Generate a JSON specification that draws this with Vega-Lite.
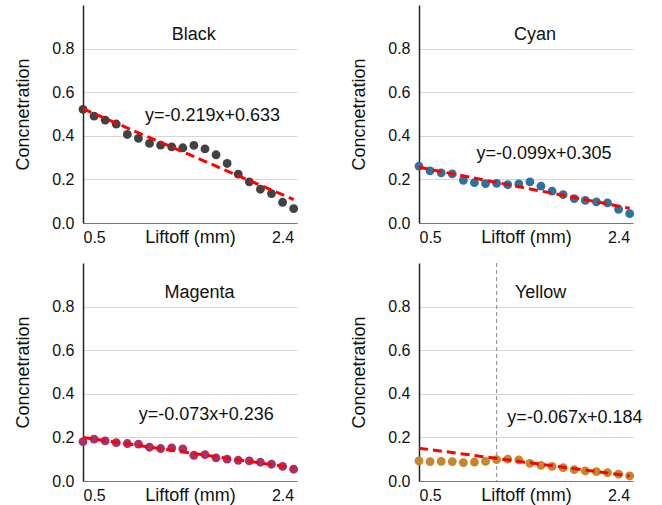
{
  "$schema": "https://vega.github.io/schema/vega-lite/v6.json",
  "padding": {"left": 14, "top": 5, "right": 5, "bottom": 5},
  "data": {"values": [
    {"panel":"Black","kind":"pt","x":0.5,"y":0.521},
    {"panel":"Black","kind":"pt","x":0.6,"y":0.490},
    {"panel":"Black","kind":"pt","x":0.7,"y":0.472},
    {"panel":"Black","kind":"pt","x":0.8,"y":0.454},
    {"panel":"Black","kind":"pt","x":0.9,"y":0.406},
    {"panel":"Black","kind":"pt","x":1.0,"y":0.388},
    {"panel":"Black","kind":"pt","x":1.1,"y":0.365},
    {"panel":"Black","kind":"pt","x":1.2,"y":0.357},
    {"panel":"Black","kind":"pt","x":1.3,"y":0.349},
    {"panel":"Black","kind":"pt","x":1.4,"y":0.345},
    {"panel":"Black","kind":"pt","x":1.5,"y":0.356},
    {"panel":"Black","kind":"pt","x":1.6,"y":0.340},
    {"panel":"Black","kind":"pt","x":1.7,"y":0.313},
    {"panel":"Black","kind":"pt","x":1.8,"y":0.273},
    {"panel":"Black","kind":"pt","x":1.9,"y":0.224},
    {"panel":"Black","kind":"pt","x":2.0,"y":0.189},
    {"panel":"Black","kind":"pt","x":2.1,"y":0.155},
    {"panel":"Black","kind":"pt","x":2.2,"y":0.135},
    {"panel":"Black","kind":"pt","x":2.3,"y":0.095},
    {"panel":"Black","kind":"pt","x":2.4,"y":0.066},
    {"panel":"Cyan","kind":"pt","x":0.5,"y":0.261},
    {"panel":"Cyan","kind":"pt","x":0.6,"y":0.239},
    {"panel":"Cyan","kind":"pt","x":0.7,"y":0.230},
    {"panel":"Cyan","kind":"pt","x":0.8,"y":0.225},
    {"panel":"Cyan","kind":"pt","x":0.9,"y":0.196},
    {"panel":"Cyan","kind":"pt","x":1.0,"y":0.185},
    {"panel":"Cyan","kind":"pt","x":1.1,"y":0.181},
    {"panel":"Cyan","kind":"pt","x":1.2,"y":0.182},
    {"panel":"Cyan","kind":"pt","x":1.3,"y":0.176},
    {"panel":"Cyan","kind":"pt","x":1.4,"y":0.179},
    {"panel":"Cyan","kind":"pt","x":1.5,"y":0.189},
    {"panel":"Cyan","kind":"pt","x":1.6,"y":0.169},
    {"panel":"Cyan","kind":"pt","x":1.7,"y":0.146},
    {"panel":"Cyan","kind":"pt","x":1.8,"y":0.130},
    {"panel":"Cyan","kind":"pt","x":1.9,"y":0.112},
    {"panel":"Cyan","kind":"pt","x":2.0,"y":0.104},
    {"panel":"Cyan","kind":"pt","x":2.1,"y":0.097},
    {"panel":"Cyan","kind":"pt","x":2.2,"y":0.092},
    {"panel":"Cyan","kind":"pt","x":2.3,"y":0.063},
    {"panel":"Cyan","kind":"pt","x":2.4,"y":0.043},
    {"panel":"Magenta","kind":"pt","x":0.5,"y":0.181},
    {"panel":"Magenta","kind":"pt","x":0.6,"y":0.192},
    {"panel":"Magenta","kind":"pt","x":0.7,"y":0.184},
    {"panel":"Magenta","kind":"pt","x":0.8,"y":0.176},
    {"panel":"Magenta","kind":"pt","x":0.9,"y":0.172},
    {"panel":"Magenta","kind":"pt","x":1.0,"y":0.169},
    {"panel":"Magenta","kind":"pt","x":1.1,"y":0.155},
    {"panel":"Magenta","kind":"pt","x":1.2,"y":0.149},
    {"panel":"Magenta","kind":"pt","x":1.3,"y":0.152},
    {"panel":"Magenta","kind":"pt","x":1.4,"y":0.147},
    {"panel":"Magenta","kind":"pt","x":1.5,"y":0.118},
    {"panel":"Magenta","kind":"pt","x":1.6,"y":0.121},
    {"panel":"Magenta","kind":"pt","x":1.7,"y":0.106},
    {"panel":"Magenta","kind":"pt","x":1.8,"y":0.100},
    {"panel":"Magenta","kind":"pt","x":1.9,"y":0.095},
    {"panel":"Magenta","kind":"pt","x":2.0,"y":0.092},
    {"panel":"Magenta","kind":"pt","x":2.1,"y":0.086},
    {"panel":"Magenta","kind":"pt","x":2.2,"y":0.077},
    {"panel":"Magenta","kind":"pt","x":2.3,"y":0.067},
    {"panel":"Magenta","kind":"pt","x":2.4,"y":0.054},
    {"panel":"Yellow","kind":"pt","x":0.5,"y":0.092},
    {"panel":"Yellow","kind":"pt","x":0.6,"y":0.089},
    {"panel":"Yellow","kind":"pt","x":0.7,"y":0.090},
    {"panel":"Yellow","kind":"pt","x":0.8,"y":0.089},
    {"panel":"Yellow","kind":"pt","x":0.9,"y":0.084},
    {"panel":"Yellow","kind":"pt","x":1.0,"y":0.087},
    {"panel":"Yellow","kind":"pt","x":1.1,"y":0.090},
    {"panel":"Yellow","kind":"pt","x":1.2,"y":0.098},
    {"panel":"Yellow","kind":"pt","x":1.3,"y":0.100},
    {"panel":"Yellow","kind":"pt","x":1.4,"y":0.097},
    {"panel":"Yellow","kind":"pt","x":1.5,"y":0.081},
    {"panel":"Yellow","kind":"pt","x":1.6,"y":0.072},
    {"panel":"Yellow","kind":"pt","x":1.7,"y":0.067},
    {"panel":"Yellow","kind":"pt","x":1.8,"y":0.061},
    {"panel":"Yellow","kind":"pt","x":1.9,"y":0.052},
    {"panel":"Yellow","kind":"pt","x":2.0,"y":0.046},
    {"panel":"Yellow","kind":"pt","x":2.1,"y":0.043},
    {"panel":"Yellow","kind":"pt","x":2.2,"y":0.038},
    {"panel":"Yellow","kind":"pt","x":2.3,"y":0.031},
    {"panel":"Yellow","kind":"pt","x":2.4,"y":0.023},
    {"panel":"Black","kind":"fit","x":0.5,"y":0.5235},
    {"panel":"Black","kind":"fit","x":2.4,"y":0.1074},
    {"panel":"Cyan","kind":"fit","x":0.5,"y":0.2555},
    {"panel":"Cyan","kind":"fit","x":2.4,"y":0.0674},
    {"panel":"Magenta","kind":"fit","x":0.5,"y":0.1995},
    {"panel":"Magenta","kind":"fit","x":2.4,"y":0.0608},
    {"panel":"Yellow","kind":"fit","x":0.5,"y":0.1505},
    {"panel":"Yellow","kind":"fit","x":2.4,"y":0.0232},
    {"panel":"Black","kind":"eq","x":1.059,"y":0.493,"label":"y=-0.219x+0.633"},
    {"panel":"Cyan","kind":"eq","x":1.018,"y":0.315,"label":"y=-0.099x+0.305"},
    {"panel":"Magenta","kind":"eq","x":1.002,"y":0.303,"label":"y=-0.073x+0.236"},
    {"panel":"Yellow","kind":"eq","x":1.297,"y":0.287,"label":"y=-0.067x+0.184"},
    {"panel":"Black","kind":"title","x":1.499,"y":0.862,"label":"Black"},
    {"panel":"Cyan","kind":"title","x":1.546,"y":0.862,"label":"Cyan"},
    {"panel":"Magenta","kind":"title","x":1.55,"y":0.862,"label":"Magenta"},
    {"panel":"Yellow","kind":"title","x":1.597,"y":0.862,"label":"Yellow"},
    {"panel":"Yellow","kind":"vline","x":1.2}
  ]},
  "columns": 2,
  "spacing": {"row": 16, "column": 50},
  "concat": [
    {
      "width": 214, "height": 218,
      "transform": [{"filter": "datum.panel === 'Black'"}],
      "layer": [
        {
          "transform": [{"filter": "datum.kind === 'pt'"}],
          "mark": {"type": "circle", "size": 78, "opacity": 1, "color": "#424242"},
          "encoding": {
            "x": {"field": "x", "type": "quantitative", "scale": {"domain": [0.5, 2.43], "nice": false, "zero": false}, "axis": {"title": "Liftoff (mm)", "values": [0.5, 2.4], "format": ".1f"}},
            "y": {"field": "y", "type": "quantitative", "scale": {"domain": [0, 1], "nice": false}, "axis": {"title": "Concnetration", "values": [0, 0.2, 0.4, 0.6, 0.8], "format": ".1f"}}
          }
        },
        {
          "transform": [{"filter": "datum.kind === 'fit'"}],
          "mark": {"type": "line", "color": "#ff0000", "strokeWidth": 3, "strokeDash": [9, 5]},
          "encoding": {"x": {"field": "x", "type": "quantitative"}, "y": {"field": "y", "type": "quantitative"}}
        },
        {
          "transform": [{"filter": "datum.kind === 'eq'"}],
          "mark": {"type": "text", "align": "left", "baseline": "middle", "fontSize": 18, "color": "#111"},
          "encoding": {"x": {"field": "x", "type": "quantitative"}, "y": {"field": "y", "type": "quantitative"}, "text": {"field": "label"}}
        },
        {
          "transform": [{"filter": "datum.kind === 'title'"}],
          "mark": {"type": "text", "align": "center", "baseline": "middle", "fontSize": 18, "color": "#111"},
          "encoding": {"x": {"field": "x", "type": "quantitative"}, "y": {"field": "y", "type": "quantitative"}, "text": {"field": "label"}}
        }
      ]
    },
    {
      "width": 214, "height": 218,
      "transform": [{"filter": "datum.panel === 'Cyan'"}],
      "layer": [
        {
          "transform": [{"filter": "datum.kind === 'pt'"}],
          "mark": {"type": "circle", "size": 78, "opacity": 1, "color": "#2e73a0"},
          "encoding": {
            "x": {"field": "x", "type": "quantitative", "scale": {"domain": [0.5, 2.43], "nice": false, "zero": false}, "axis": {"title": "Liftoff (mm)", "values": [0.5, 2.4], "format": ".1f"}},
            "y": {"field": "y", "type": "quantitative", "scale": {"domain": [0, 1], "nice": false}, "axis": {"title": "Concnetration", "values": [0, 0.2, 0.4, 0.6, 0.8], "format": ".1f"}}
          }
        },
        {
          "transform": [{"filter": "datum.kind === 'fit'"}],
          "mark": {"type": "line", "color": "#ff0000", "strokeWidth": 3, "strokeDash": [9, 5]},
          "encoding": {"x": {"field": "x", "type": "quantitative"}, "y": {"field": "y", "type": "quantitative"}}
        },
        {
          "transform": [{"filter": "datum.kind === 'eq'"}],
          "mark": {"type": "text", "align": "left", "baseline": "middle", "fontSize": 18, "color": "#111"},
          "encoding": {"x": {"field": "x", "type": "quantitative"}, "y": {"field": "y", "type": "quantitative"}, "text": {"field": "label"}}
        },
        {
          "transform": [{"filter": "datum.kind === 'title'"}],
          "mark": {"type": "text", "align": "center", "baseline": "middle", "fontSize": 18, "color": "#111"},
          "encoding": {"x": {"field": "x", "type": "quantitative"}, "y": {"field": "y", "type": "quantitative"}, "text": {"field": "label"}}
        }
      ]
    },
    {
      "width": 214, "height": 218,
      "transform": [{"filter": "datum.panel === 'Magenta'"}],
      "layer": [
        {
          "transform": [{"filter": "datum.kind === 'pt'"}],
          "mark": {"type": "circle", "size": 78, "opacity": 1, "color": "#a8306f"},
          "encoding": {
            "x": {"field": "x", "type": "quantitative", "scale": {"domain": [0.5, 2.43], "nice": false, "zero": false}, "axis": {"title": "Liftoff (mm)", "values": [0.5, 2.4], "format": ".1f"}},
            "y": {"field": "y", "type": "quantitative", "scale": {"domain": [0, 1], "nice": false}, "axis": {"title": "Concnetration", "values": [0, 0.2, 0.4, 0.6, 0.8], "format": ".1f"}}
          }
        },
        {
          "transform": [{"filter": "datum.kind === 'fit'"}],
          "mark": {"type": "line", "color": "#ff0000", "strokeWidth": 3, "strokeDash": [9, 5]},
          "encoding": {"x": {"field": "x", "type": "quantitative"}, "y": {"field": "y", "type": "quantitative"}}
        },
        {
          "transform": [{"filter": "datum.kind === 'eq'"}],
          "mark": {"type": "text", "align": "left", "baseline": "middle", "fontSize": 18, "color": "#111"},
          "encoding": {"x": {"field": "x", "type": "quantitative"}, "y": {"field": "y", "type": "quantitative"}, "text": {"field": "label"}}
        },
        {
          "transform": [{"filter": "datum.kind === 'title'"}],
          "mark": {"type": "text", "align": "center", "baseline": "middle", "fontSize": 18, "color": "#111"},
          "encoding": {"x": {"field": "x", "type": "quantitative"}, "y": {"field": "y", "type": "quantitative"}, "text": {"field": "label"}}
        }
      ]
    },
    {
      "width": 214, "height": 218,
      "transform": [{"filter": "datum.panel === 'Yellow'"}],
      "layer": [
        {
          "transform": [{"filter": "datum.kind === 'vline'"}],
          "mark": {"type": "rule", "color": "#8a8a8a", "strokeWidth": 1, "strokeDash": [4, 3]},
          "encoding": {
            "x": {"field": "x", "type": "quantitative", "scale": {"domain": [0.5, 2.43], "nice": false, "zero": false}, "axis": {"title": "Liftoff (mm)", "values": [0.5, 2.4], "format": ".1f"}}
          }
        },
        {
          "transform": [{"filter": "datum.kind === 'pt'"}],
          "mark": {"type": "circle", "size": 78, "opacity": 1, "color": "#c8862a"},
          "encoding": {
            "x": {"field": "x", "type": "quantitative", "scale": {"domain": [0.5, 2.43], "nice": false, "zero": false}, "axis": {"title": "Liftoff (mm)", "values": [0.5, 2.4], "format": ".1f"}},
            "y": {"field": "y", "type": "quantitative", "scale": {"domain": [0, 1], "nice": false}, "axis": {"title": "Concnetration", "values": [0, 0.2, 0.4, 0.6, 0.8], "format": ".1f"}}
          }
        },
        {
          "transform": [{"filter": "datum.kind === 'fit'"}],
          "mark": {"type": "line", "color": "#ff0000", "strokeWidth": 3, "strokeDash": [9, 5]},
          "encoding": {"x": {"field": "x", "type": "quantitative"}, "y": {"field": "y", "type": "quantitative"}}
        },
        {
          "transform": [{"filter": "datum.kind === 'eq'"}],
          "mark": {"type": "text", "align": "left", "baseline": "middle", "fontSize": 18, "color": "#111"},
          "encoding": {"x": {"field": "x", "type": "quantitative"}, "y": {"field": "y", "type": "quantitative"}, "text": {"field": "label"}}
        },
        {
          "transform": [{"filter": "datum.kind === 'title'"}],
          "mark": {"type": "text", "align": "center", "baseline": "middle", "fontSize": 18, "color": "#111"},
          "encoding": {"x": {"field": "x", "type": "quantitative"}, "y": {"field": "y", "type": "quantitative"}, "text": {"field": "label"}}
        }
      ]
    }
  ],
  "config": {
    "font": "Liberation Sans",
    "view": {"stroke": null},
    "axisX": {"grid": false, "ticks": false, "domainColor": "#777", "domainWidth": 1.2, "labelFontSize": 16, "labelColor": "#111", "labelPadding": 6, "labelFlush": 5, "titleFontSize": 18, "titleFontWeight": "normal", "titleColor": "#111", "titleY": 5, "titleBaseline": "top"},
    "axisY": {"grid": true, "gridColor": "#d6d6d6", "gridWidth": 1.2, "ticks": false, "domainColor": "#222", "domainWidth": 1.5, "labelFontSize": 16, "labelColor": "#111", "labelPadding": 9, "titleFontSize": 18, "titleFontWeight": "normal", "titleColor": "#111", "titlePadding": 19}
  }
}
